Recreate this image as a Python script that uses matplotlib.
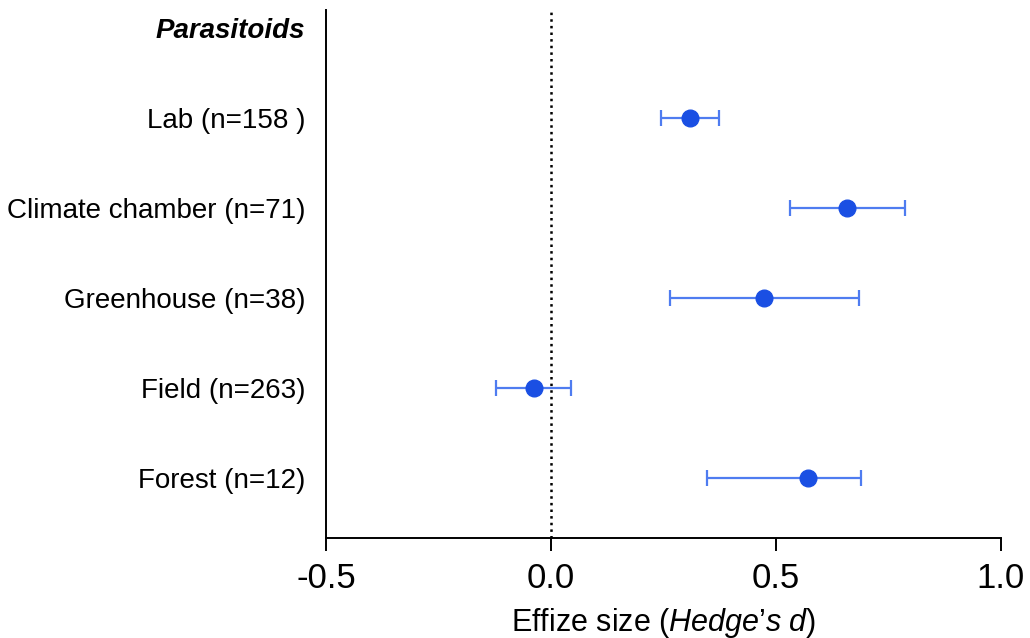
import matplotlib.pyplot as plt

plt.rcParams['font.family'] = ['Liberation Sans', 'DejaVu Sans']
plt.rcParams['mathtext.fontset'] = 'custom'
plt.rcParams['mathtext.rm'] = 'Liberation Sans'
plt.rcParams['mathtext.it'] = 'Liberation Sans:italic'

# data
groups = ['Lab (n=158 )', 'Climate chamber (n=71)', 'Greenhouse (n=38)',
          'Field (n=263)', 'Forest (n=12)']
effect = [0.309, 0.658, 0.473, -0.038, 0.571]
lower = [0.244, 0.531, 0.264, -0.122, 0.347]
upper = [0.373, 0.787, 0.684, 0.044, 0.688]
xticks = [-0.5, 0.0, 0.5, 1.0]

fig = plt.figure(figsize=(10.3, 6.38), dpi=100)
ax = fig.add_axes([0.3165, 0.1567, 0.9718 - 0.3165, 0.984 - 0.1567])

ypos = list(range(1, len(groups) + 1))
xerr = [[e - l for e, l in zip(effect, lower)],
        [u - e for e, u in zip(effect, upper)]]

ax.axvline(0, color='black', linestyle=':', linewidth=1.8, zorder=1)
ax.errorbar(effect, ypos, xerr=xerr, fmt='none', ecolor='#4f7cf0',
            elinewidth=1.6, capsize=6, capthick=1.6, zorder=2)
ax.plot(effect, ypos, 'o', color='#1a4fe3', markersize=12, zorder=3)

ax.set_xlim(-0.5, 1.0)
ax.set_ylim(5.667, -0.2)
ax.set_xticks(xticks)
ax.set_xticklabels([f'{t:.1f}' for t in xticks], fontsize=25)
ax.set_yticks([0] + ypos)
ax.set_yticklabels(['Parasitoids'] + groups, fontsize=20)
ax.get_yticklabels()[0].set_fontweight('bold')
ax.get_yticklabels()[0].set_fontstyle('italic')
ax.tick_params(axis='y', length=0, pad=15)
ax.tick_params(axis='x', length=9, width=1.4, pad=8)

for s in ['top', 'right']:
    ax.spines[s].set_visible(False)
for s in ['left', 'bottom']:
    ax.spines[s].set_linewidth(1.4)

ax.set_xlabel("Effize size ($\\mathit{Hedge’s\\ d}$)", fontsize=22, labelpad=8)

fig.savefig('out.png', dpi=100)
